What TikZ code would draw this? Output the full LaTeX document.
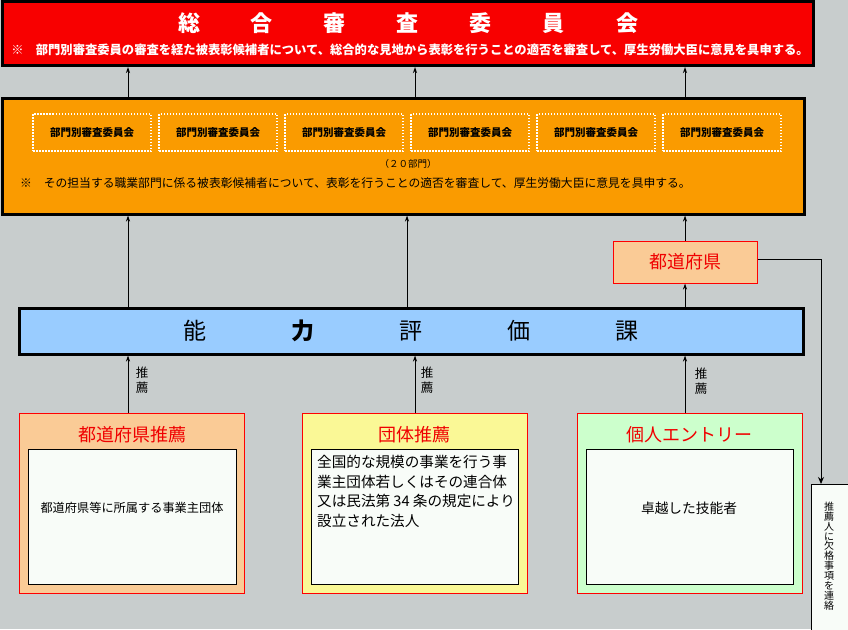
\documentclass[tikz,border=0pt]{standalone}
\usepackage{fontspec}
\setmainfont{Noto Sans CJK JP}
\usetikzlibrary{arrows.meta}
\definecolor{bgc}{RGB}{200,205,205}
\definecolor{topred}{RGB}{248,0,0}
\definecolor{orng}{RGB}{250,155,0}
\definecolor{peach}{RGB}{250,203,150}
\definecolor{ltblue}{RGB}{153,204,255}
\definecolor{ltyel}{RGB}{250,248,150}
\definecolor{ltgrn}{RGB}{204,255,204}
\definecolor{inwhite}{RGB}{248,252,248}
\definecolor{txtred}{RGB}{240,0,0}
\newcommand{\fs}[1]{\fontsize{#1}{#1}\selectfont}
\begin{document}
\begin{tikzpicture}[x=1pt,y=-1pt,
  bigbox/.style={draw=black,line width=3pt,rectangle,inner sep=0pt},
  redbox/.style={draw=red,line width=1pt,rectangle,inner sep=0pt},
  inbox/.style={draw=black,line width=1pt,fill=inwhite,rectangle,inner sep=0pt},
  dotbox/.style={draw=white,line width=1.5pt,dash pattern=on 1.5pt off 1.5pt,rectangle,inner sep=0pt,minimum width=118pt,minimum height=37pt,font=\fs{10.5}\bfseries},
  arr/.style={line width=1pt,-{Stealth[length=6pt,width=4pt]}},
  lbl/.style={inner sep=0pt,align=center}
]
\useasboundingbox (0,0) rectangle (848,629);
\fill[bgc] (0,0) rectangle (848,629);

% x positions
\coordinate (xa) at (128,0);
\coordinate (xb) at (415,0);
\coordinate (xb2) at (407,0);
\coordinate (xc) at (685,0);
\coordinate (xd) at (821,0);

% top red box
\node[bigbox,fill=topred,minimum width=811pt,minimum height=64pt] (sogo) at (407.5,33.5) {};
\node[lbl,text=white,font=\fs{22}\bfseries] (sogot) at (408,23) {総\hspace{51pt}合\hspace{51pt}審\hspace{51pt}査\hspace{51pt}委\hspace{51pt}員\hspace{51pt}会};
\node[lbl,text=white,font=\fs{12.3}\bfseries] (sogon) at (410,50) {※　部門別審査委員の審査を経た被表彰候補者について、総合的な見地から表彰を行うことの適否を審査して、厚生労働大臣に意見を具申する。};

% orange box
\node[bigbox,fill=orng,minimum width=802pt,minimum height=116pt] (bumon) at (403,156) {};
\foreach \i in {0,...,5}{
  \node[dotbox] (d\i) at (92+126*\i,132.5) {部門別審査委員会};
}
\node[lbl,font=\fs{9.5}] (bumonc) at (408,164) {（２０部門）};
\node[lbl,anchor=west,font=\fs{11.8}] (bumonn) at (20,183) {※　その担当する職業部門に係る被表彰候補者について、表彰を行うことの適否を審査して、厚生労働大臣に意見を具申する。};

% prefecture box
\node[redbox,fill=peach,minimum width=144pt,minimum height=42pt,text=txtred,font=\fs{18}] (pref) at (685,262) {都道府県};

% 能力評価課
\node[bigbox,fill=ltblue,minimum width=784pt,minimum height=46pt] (nokan) at (411,331) {};
\node[lbl,font=\fs{23}] (nokant) at (411,331) {能\hspace{85pt}\textbf{力}\hspace{85pt}評\hspace{85pt}価\hspace{85pt}課};

% bottom boxes
\node[redbox,fill=peach,minimum width=225pt,minimum height=180pt] (b1) at (131.5,503) {};
\node[redbox,fill=ltyel,minimum width=225pt,minimum height=180pt] (b2) at (414.5,503) {};
\node[redbox,fill=ltgrn,minimum width=225pt,minimum height=180pt] (b3) at (689.5,503) {};
\node[lbl,text=txtred,font=\fs{18}] (b1t) at (132,435) {都道府県推薦};
\node[lbl,text=txtred,font=\fs{18}] (b2t) at (414,435) {団体推薦};
\node[lbl,text=txtred,font=\fs{18}] (b3t) at (689,435) {個人エントリー};
\node[inbox,minimum width=208pt,minimum height=135pt] (i1) at (132,516.5) {};
\node[inbox,minimum width=207pt,minimum height=135pt] (i2) at (414.5,516.5) {};
\node[inbox,minimum width=207pt,minimum height=135pt] (i3) at (689.5,516.5) {};
\node[lbl,font=\fs{12.2}] (i1t) at (132,508) {都道府県等に所属する事業主団体};
\node[lbl,anchor=north west,align=left,font=\fontsize{14.6}{19.5}\selectfont] (i2t) at (317,455) {全国的な規模の事業を行う事\\業主団体若しくはその連合体\\又は民法第 34 条の規定により\\設立された法人};
\node[lbl,font=\fs{13.7}] (i3t) at (689,508) {卓越した技能者};

% 推薦人 box
\node[inbox,anchor=north west,minimum width=37pt,minimum height=160pt] (suisen) at (811,484) {};
\node[lbl,font=\fontsize{10}{9.9}\selectfont] (suisent) at (829,556) {推\\薦\\人\\に\\欠\\格\\事\\項\\を\\連\\絡};

% recommendation labels
\node[lbl,font=\fontsize{12.5}{14.5}\selectfont] (r1) at (142,380) {推\\薦};
\node[lbl,font=\fontsize{12.5}{14.5}\selectfont] (r2) at (427,380) {推\\薦};
\node[lbl,font=\fontsize{12.5}{14.5}\selectfont] (r3) at (701,381) {推\\薦};

% arrows
\draw[arr] (bumon.north -| xa) -- (sogo.south -| xa);
\draw[arr] (bumon.north -| xb) -- (sogo.south -| xb);
\draw[arr] (bumon.north -| xc) -- (sogo.south -| xc);
\draw[arr] (nokan.north -| xa) -- (bumon.south -| xa);
\draw[arr] (nokan.north -| xb2) -- (bumon.south -| xb2);
\draw[arr] (pref.north) -- (bumon.south -| xc);
\draw[arr] (nokan.north -| xc) -- (pref.south);
\draw[arr] (b1.north -| xa) -- (nokan.south -| xa);
\draw[arr] (b2.north -| xb) -- (nokan.south -| xb);
\draw[arr] (b3.north -| xc) -- (nokan.south -| xc);
\draw[line width=1pt,-{Stealth[length=7pt,width=6pt]}] (pref.east |- 0,259) -| (suisen.north -| xd);
\end{tikzpicture}
\end{document}
